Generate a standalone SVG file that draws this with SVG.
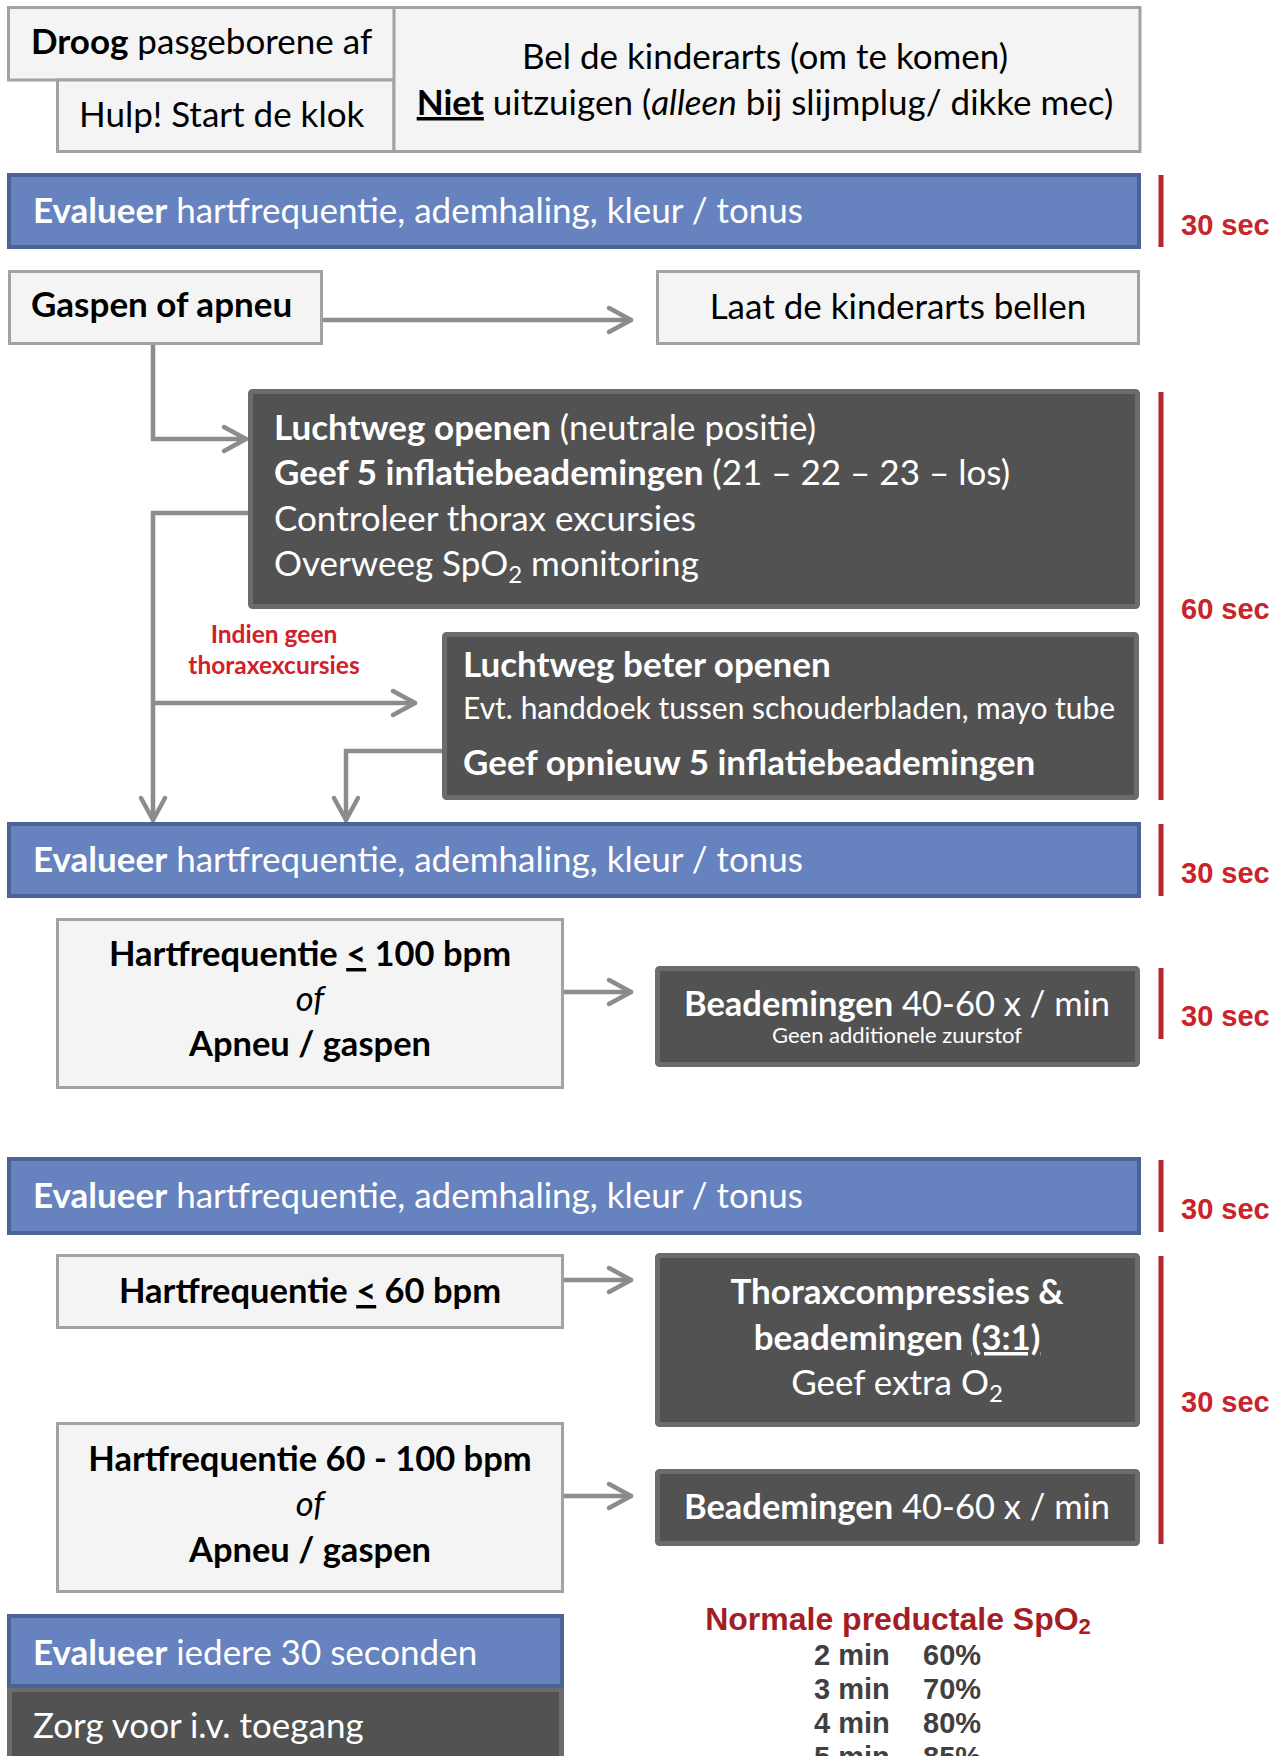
<svg xmlns="http://www.w3.org/2000/svg" width="1288" height="1756" viewBox="0 0 1288 1756">
<defs>
<style>
.light{fill:#f4f4f4;stroke:#a2a2a2;stroke-width:3}
.blue{fill:#6682bf;stroke:#4a6496;stroke-width:4}
.dark{fill:#525252;stroke:#6c6c6c;stroke-width:5}
.t{font-family:Lato,"Open Sans","Liberation Sans",sans-serif;font-size:35px}
.m{font-size:34.5px}
.k{fill:#000}
.w{fill:#fff}
.b{font-weight:700}
.i{font-style:italic}
.u{text-decoration:underline}
.sub{font-size:24px}
.sec{font-family:"Liberation Sans",Arial,sans-serif;font-weight:700;font-size:29px;fill:#c9242b}
.rbar{stroke:#b3282d;stroke-width:5}
.conn{fill:none;stroke:#8c8c8c;stroke-width:4.5;stroke-linecap:round}
.lbl{font-family:Lato,"Open Sans","Liberation Sans",sans-serif;font-size:24.5px;font-weight:700;fill:#d0202a}
.spo{font-family:"Liberation Sans",Arial,sans-serif;font-weight:700;font-size:32px;fill:#a51d24}
.tab{font-family:"Liberation Sans",Arial,sans-serif;font-weight:700;font-size:29px;fill:#404040}
</style>
<marker id="ah" viewBox="-30 -16 34 32" refX="0" refY="0" markerWidth="34" markerHeight="32" markerUnits="userSpaceOnUse" orient="auto">
<path d="M-22,-12 L0,0 L-22,12" fill="none" stroke="#8c8c8c" stroke-width="4.5" stroke-linecap="round" stroke-linejoin="round"/>
</marker>
</defs>
<rect width="1288" height="1756" fill="#fff"/>

<g id="connectors">
<path class="conn" d="M322,320 H631" marker-end="url(#ah)"/>
<path class="conn" d="M153,344 V439 H246" marker-end="url(#ah)"/>
<path class="conn" d="M248,513 H153 V820" marker-end="url(#ah)"/>
<path class="conn" d="M153,703 H415" marker-end="url(#ah)"/>
<path class="conn" d="M442,751 H346 V820" marker-end="url(#ah)"/>
<path class="conn" d="M563,992 H631" marker-end="url(#ah)"/>
<path class="conn" d="M563,1280 H631" marker-end="url(#ah)"/>
<path class="conn" d="M563,1496 H631" marker-end="url(#ah)"/>
</g>

<g id="droog">
<rect class="light" x="8.5" y="7.5" width="386" height="72.5"/>
<text class="t k" x="31" y="54"><tspan class="b">Droog</tspan> pasgeborene af</text>
</g>
<g id="hulp">
<rect class="light" x="57.5" y="80" width="336.5" height="71.5"/>
<text class="t k" x="79" y="127">Hulp! Start de klok</text>
</g>
<g id="bel">
<rect class="light" x="394" y="7.5" width="746" height="144"/>
<text class="t k" x="765" y="69" text-anchor="middle">Bel de kinderarts (om te komen)</text>
<text class="t k" x="765" y="115" text-anchor="middle"><tspan class="b u">Niet</tspan> uitzuigen (<tspan class="i">alleen</tspan> bij slijmplug/ dikke mec)</text>
</g>

<g id="eval1">
<rect class="blue" x="9" y="175" width="1130" height="72"/>
<text class="t w" x="33" y="223"><tspan class="b">Evalueer</tspan> hartfrequentie, ademhaling, kleur / tonus</text>
</g>

<g id="gaspen">
<rect class="light" x="9.5" y="271.5" width="312" height="72"/>
<text class="t k b" x="31" y="317">Gaspen of apneu</text>
</g>
<g id="laat">
<rect class="light" x="657.5" y="271.5" width="481" height="72"/>
<text class="t k" x="898" y="319" text-anchor="middle">Laat de kinderarts bellen</text>
</g>

<g id="luchtweg">
<rect class="dark" x="250.5" y="391.5" width="887" height="215" rx="2"/>
<text class="t w" x="274" y="440"><tspan class="b">Luchtweg openen</tspan> (neutrale positie)</text>
<text class="t w" x="274" y="485"><tspan class="b">Geef 5 inflatiebeademingen</tspan> (21 – 22 – 23 – los)</text>
<text class="t w" x="274" y="531">Controleer thorax excursies</text>
<text class="t w" x="274" y="576">Overweeg SpO<tspan class="sub" dy="7">2</tspan><tspan dy="-7"> monitoring</tspan></text>
</g>

<g id="indien">
<text class="lbl" x="274" y="643" text-anchor="middle">Indien geen</text>
<text class="lbl" x="274" y="674" text-anchor="middle">thoraxexcursies</text>
</g>

<g id="beter">
<rect class="dark" x="444.5" y="634.5" width="692" height="163" rx="2"/>
<text class="t w b" x="463" y="677">Luchtweg beter openen</text>
<text class="t w" x="463" y="719" style="font-size:30px">Evt. handdoek tussen schouderbladen, mayo tube</text>
<text class="t w b" x="463" y="775">Geef opnieuw 5 inflatiebeademingen</text>
</g>

<g id="eval2">
<rect class="blue" x="9" y="824" width="1130" height="72"/>
<text class="t w" x="33" y="872"><tspan class="b">Evalueer</tspan> hartfrequentie, ademhaling, kleur / tonus</text>
</g>

<g id="hf100">
<rect class="light" x="57.5" y="919.5" width="505" height="168"/>
<text class="t m k b" x="310" y="966" text-anchor="middle">Hartfrequentie <tspan class="u">&lt;</tspan> 100 bpm</text>
<text class="t m k i" x="310" y="1011" text-anchor="middle">of</text>
<text class="t m k b" x="310" y="1056" text-anchor="middle">Apneu / gaspen</text>
</g>
<g id="beadem1">
<rect class="dark" x="657.5" y="968.5" width="480" height="96" rx="2"/>
<text class="t m w" x="897" y="1016" text-anchor="middle"><tspan class="b">Beademingen</tspan> 40-60 x / min</text>
<text class="t w" x="897" y="1043" text-anchor="middle" style="font-size:22px">Geen additionele zuurstof</text>
</g>

<g id="eval3">
<rect class="blue" x="9" y="1159" width="1130" height="74"/>
<text class="t w" x="33" y="1208"><tspan class="b">Evalueer</tspan> hartfrequentie, ademhaling, kleur / tonus</text>
</g>

<g id="hf60">
<rect class="light" x="57.5" y="1255.5" width="505" height="72"/>
<text class="t m k b" x="310" y="1303" text-anchor="middle">Hartfrequentie <tspan class="u">&lt;</tspan> 60 bpm</text>
</g>
<g id="thorax">
<rect class="dark" x="657.5" y="1255.5" width="480" height="169" rx="2"/>
<text class="t w b" x="897" y="1304" text-anchor="middle">Thoraxcompressies &amp;</text>
<text class="t w b" x="897" y="1350" text-anchor="middle">beademingen <tspan class="u">(3:1)</tspan></text>
<text class="t w" x="897" y="1395" text-anchor="middle">Geef extra O<tspan class="sub" dy="7">2</tspan></text>
</g>

<g id="hf60100">
<rect class="light" x="57.5" y="1423.5" width="505" height="168"/>
<text class="t m k b" x="310" y="1471" text-anchor="middle">Hartfrequentie 60 - 100 bpm</text>
<text class="t m k i" x="310" y="1516" text-anchor="middle">of</text>
<text class="t m k b" x="310" y="1562" text-anchor="middle">Apneu / gaspen</text>
</g>
<g id="beadem2">
<rect class="dark" x="657.5" y="1471.5" width="480" height="72" rx="2"/>
<text class="t m w" x="897" y="1519" text-anchor="middle"><tspan class="b">Beademingen</tspan> 40-60 x / min</text>
</g>

<g id="evalbottom">
<rect class="dark" x="9.5" y="1689.5" width="552" height="100"/>
<rect class="blue" x="9" y="1616" width="553" height="70"/>
<text class="t w" x="33" y="1665"><tspan class="b">Evalueer</tspan> iedere 30 seconden</text>
<text class="t w" x="33" y="1738">Zorg voor i.v. toegang</text>
</g>

<g id="spo2">
<text class="spo" x="898" y="1630" text-anchor="middle">Normale preductale SpO<tspan dy="4" style="font-size:22px">2</tspan></text>
<text class="tab" x="814" y="1665">2 min</text><text class="tab" x="923" y="1665">60%</text>
<text class="tab" x="814" y="1699">3 min</text><text class="tab" x="923" y="1699">70%</text>
<text class="tab" x="814" y="1733">4 min</text><text class="tab" x="923" y="1733">80%</text>
<text class="tab" x="814" y="1767">5 min</text><text class="tab" x="923" y="1767">85%</text>
</g>

<g id="timing">
<line class="rbar" x1="1161" y1="175" x2="1161" y2="247"/>
<line class="rbar" x1="1161" y1="392" x2="1161" y2="800"/>
<line class="rbar" x1="1161" y1="824" x2="1161" y2="896"/>
<line class="rbar" x1="1161" y1="968" x2="1161" y2="1039"/>
<line class="rbar" x1="1161" y1="1160" x2="1161" y2="1232"/>
<line class="rbar" x1="1161" y1="1256" x2="1161" y2="1544"/>
<text class="sec" x="1181" y="235">30 sec</text>
<text class="sec" x="1181" y="619">60 sec</text>
<text class="sec" x="1181" y="883">30 sec</text>
<text class="sec" x="1181" y="1026">30 sec</text>
<text class="sec" x="1181" y="1219">30 sec</text>
<text class="sec" x="1181" y="1412">30 sec</text>
</g>
</svg>
